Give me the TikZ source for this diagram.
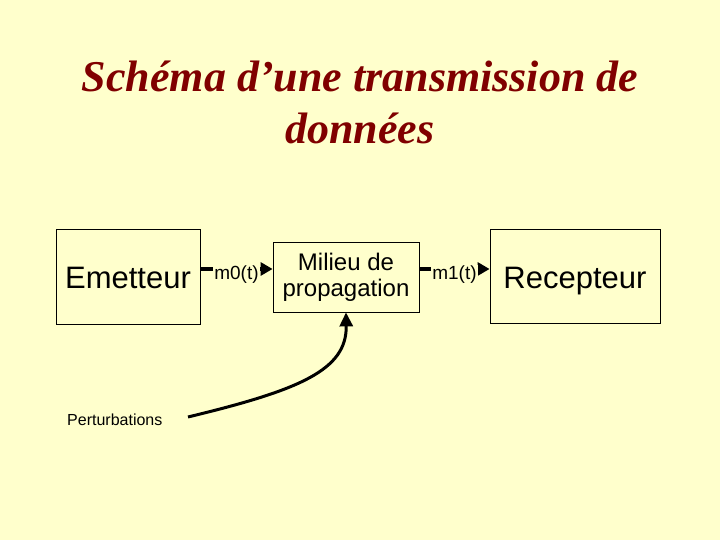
\documentclass[tikz,border=0pt]{standalone}
\usepackage{fontspec}
\setmainfont{Liberation Sans}
\newfontfamily\titlefont{Liberation Serif}
\usetikzlibrary{arrows.meta}
\definecolor{bgyellow}{RGB}{255,255,204}
\definecolor{titlered}{RGB}{128,0,0}
\begin{document}
\begin{tikzpicture}[x=1pt,y=1pt,
  box/.style={draw=black,line width=0.8pt,fill=bgyellow,inner sep=0pt,align=center},
  bigtext/.style={font=\fontsize{31}{36}\selectfont,text height=23pt,text depth=0pt},
  sig/.style={line width=3.6pt,-{Triangle[length=12pt,width=13pt]}},
  siglabel/.style={fill=bgyellow,inner sep=1.5pt,font=\fontsize{19}{22}\selectfont},
  curvearrow/.style={line width=3pt,-{Triangle[length=14pt,width=13pt]}}
]
\fill[bgyellow] (0,0) rectangle (720,540);
\useasboundingbox (0,0) rectangle (720,540);
% title
\node[font=\titlefont\bfseries\itshape\fontsize{44}{52}\selectfont,text=titlered,align=center,anchor=base] (t1) at (360,448) {Schéma d’une transmission de};
\node[font=\titlefont\bfseries\itshape\fontsize{44}{52}\selectfont,text=titlered,align=center,anchor=base] (t2) at (360,396) {données};
% boxes
\node[box,minimum width=144pt,minimum height=95pt] (em) at (128,263.5) {};
\node[bigtext,anchor=base] (emt) at (128,251) {Emetteur};
\node[box,minimum width=146pt,minimum height=70pt,font=\fontsize{24}{28}\selectfont] (mi) at (346,263) {Milieu de\\[-2pt]propagation};
\node[box,minimum width=170pt,minimum height=94pt] (re) at (575,264) {};
\node[bigtext,anchor=base] (ret) at (575,251) {Recepteur};
\coordinate (lvl) at (0,271);
% signals
\draw[sig] (em.east |- lvl) -- node[siglabel,yshift=-6pt] (m0) {m0(t)} (mi.west |- lvl);
\draw[sig] (mi.east |- lvl) -- node[siglabel,yshift=-6pt] (m1) {m1(t)} (re.west |- lvl);
% perturbations
\node[font=\fontsize{16}{19}\selectfont,anchor=west,inner sep=0pt] (pe) at (67,120) {Perturbations};
\coordinate (cs) at (188,123);
\draw[curvearrow] (cs) .. controls (300,150) and (347,170) .. (mi.south);
\end{tikzpicture}
\end{document}
